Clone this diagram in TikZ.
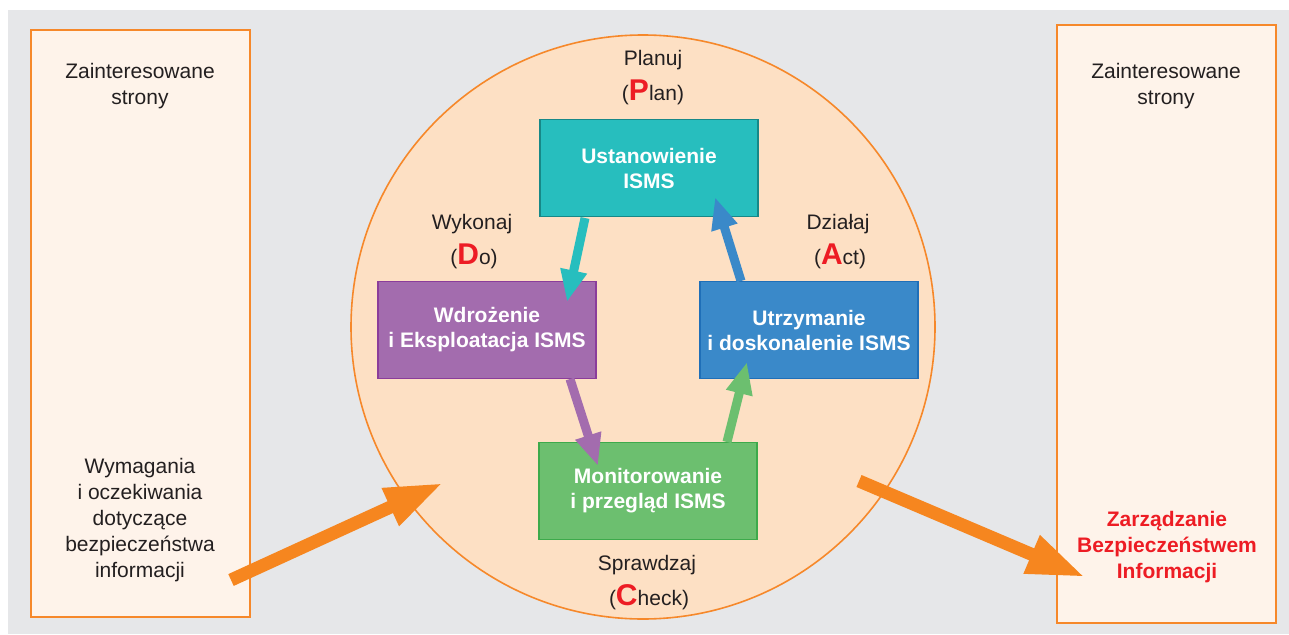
\documentclass[tikz,border=0pt]{standalone}
\usepackage{fontspec}
\setmainfont{Liberation Sans}
\usetikzlibrary{arrows.meta}
\definecolor{bggray}{HTML}{E6E7E9}
\definecolor{peach}{HTML}{FDE0C4}
\definecolor{cream}{HTML}{FEF3EA}
\definecolor{orng}{HTML}{F6882A}
\definecolor{orarrow}{HTML}{F6861F}
\definecolor{tealf}{HTML}{27BEBE}
\definecolor{teald}{HTML}{178888}
\definecolor{purpf}{HTML}{A36CAE}
\definecolor{purpd}{HTML}{8B3D9B}
\definecolor{bluef}{HTML}{3A89C9}
\definecolor{blued}{HTML}{1F6FB8}
\definecolor{greenf}{HTML}{6CBF6F}
\definecolor{greend}{HTML}{3DAA4B}
\definecolor{pdred}{HTML}{ED1C24}
\definecolor{txt}{HTML}{231F20}
\tikzset{
  sidebox/.style={draw=orng, fill=cream, line width=2.2pt},
  stagebox/.style={line width=1.8pt, minimum width=218pt, minimum height=97pt, text=white, align=center, font=\fontsize{21}{25}\selectfont\bfseries},
  lbl/.style={text=txt, align=center, font=\fontsize{21}{26}\selectfont},
  redlbl/.style={text=pdred, align=center, font=\fontsize{21}{26}\selectfont\bfseries},
  cyclearrow/.style={line width=9pt, -{Triangle[length=32pt,width=25pt]}},
  bigarrow/.style={draw=orarrow, line width=13pt, -{Triangle[length=58pt,width=38pt]}}
}
\newcommand{\bigred}[1]{{\color{pdred}\bfseries\fontsize{30}{30}\selectfont #1}}
\begin{document}
\begin{tikzpicture}[x=1pt,y=-1pt]
\useasboundingbox (0,0) rectangle (1289,634);
\fill[white] (0,0) rectangle (1289,634);
\fill[bggray] (8,10) rectangle (1289,634);
% side boxes
\draw[sidebox] (31,30) rectangle (250,617);
\draw[sidebox] (1057,25) rectangle (1276,623);
% circle
\node[circle, draw=orng, fill=peach, line width=1.6pt, minimum size=584pt, inner sep=0pt] (cyc) at (643,327) {};
% stage boxes
\node[stagebox, draw=teald, fill=tealf] (ust) at (649,168) {Ustanowienie\\ISMS};
\node[stagebox, draw=purpd, fill=purpf] (wdr) at (487,330) {Wdrożenie\\i Eksploatacja ISMS};
\node[stagebox, draw=blued, fill=bluef] (utr) at (809,330) {Utrzymanie\\i doskonalenie ISMS};
\node[stagebox, draw=greend, fill=greenf] (mon) at (648,491) {Monitorowanie\\i przegląd ISMS};
% cycle arrows
\coordinate (c1s) at (585,218);
\coordinate (c1e) at (567,302);
\coordinate (c2s) at (570,379);
\coordinate (c2e) at (598,466);
\coordinate (c3s) at (727,442);
\coordinate (c3e) at (747,362);
\coordinate (c4s) at (741,281);
\coordinate (c4e) at (715,197);
\draw[cyclearrow, draw=tealf] (c1s) -- (c1e);
\draw[cyclearrow, draw=purpf] (c2s) -- (c2e);
\draw[cyclearrow, draw=greenf] (c3s) -- (c3e);
\draw[cyclearrow, draw=bluef] (c4s) -- (c4e);
% phase labels
\node[lbl] (plan1) at (653,60) {Planuj};
\node[lbl] (plan2) at (653,92) {(\bigred{P}lan)};
\node[lbl] (do1) at (472,224) {Wykonaj};
\node[lbl] (do2) at (474,256) {(\bigred{D}o)};
\node[lbl] (act1) at (838,224) {Działaj};
\node[lbl] (act2) at (840,256) {(\bigred{A}ct)};
\node[lbl] (chk1) at (647,565) {Sprawdzaj};
\node[lbl] (chk2) at (649,597) {(\bigred{C}heck)};
% side texts
\node[lbl] (zl) at (140,86) {Zainteresowane\\strony};
\node[lbl] (zr) at (1166,86) {Zainteresowane\\strony};
\node[lbl] (req) at (140,520) {Wymagania\\i oczekiwania\\dotyczące\\bezpieczeństwa\\informacji};
\node[redlbl] (zbi) at (1167,547) {Zarządzanie\\Bezpieczeństwem\\Informacji};
% big arrows
\coordinate (inA) at (231,580);
\coordinate (inB) at (443,483);
\coordinate (outA) at (859,481);
\coordinate (outB) at (1085,577);
\draw[bigarrow] (inA) -- (inB);
\draw[bigarrow] (outA) -- (outB);
\end{tikzpicture}
\end{document}
